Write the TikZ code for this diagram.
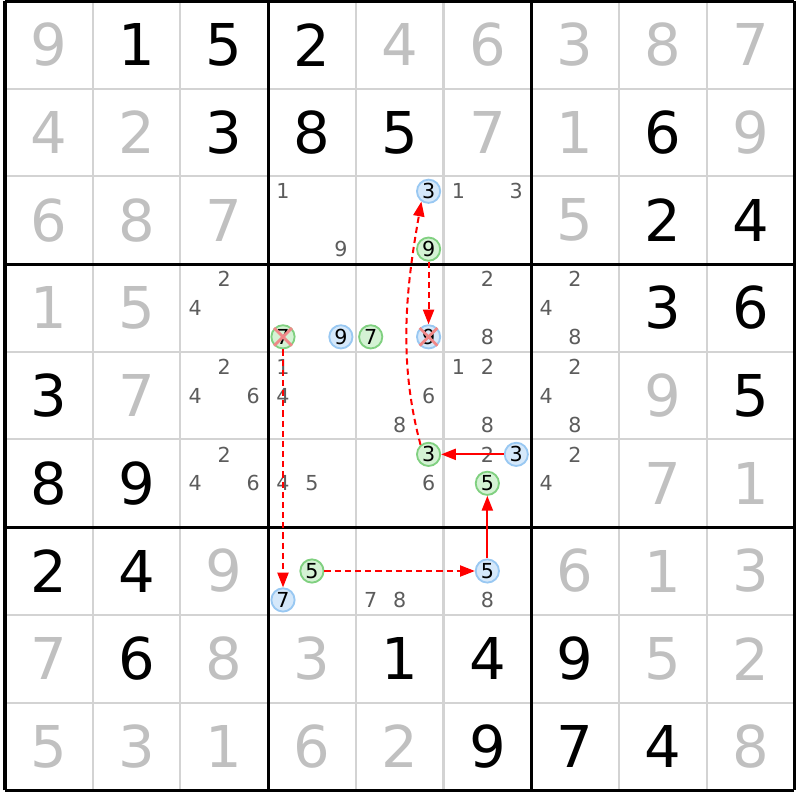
\documentclass[tikz,border=0pt]{standalone}
\usepackage{fontspec}
\setmainfont{DejaVu Sans}
\usetikzlibrary{arrows.meta}
\definecolor{solvedgray}{HTML}{C0C0C0}
\definecolor{candgray}{HTML}{5C5C5C}
\definecolor{gridgray}{HTML}{D3D3D3}
\definecolor{ongreen}{HTML}{D4F2D4}
\definecolor{ongreenline}{HTML}{80D080}
\definecolor{offblue}{HTML}{D5E8FA}
\definecolor{offblueline}{HTML}{99C8F2}
\definecolor{strikered}{HTML}{F08888}
\newcommand\givenfont{\fontsize{18.7}{20}\selectfont}
\newcommand\candfont{\fontsize{6.7}{7}\selectfont}
\tikzset{
  given/.style={font=\givenfont,inner sep=0pt},
  solved/.style={given,text=solvedgray},
  cand/.style={font=\candfont,inner sep=0pt,text=candgray},
  oncand/.style={cand,text=black,circle,draw=ongreenline,fill=ongreen,line width=0.6pt,minimum size=0.265cm},
  offcand/.style={oncand,draw=offblueline,fill=offblue},
  strike/.style={strikered,line width=0.9pt},
  stronglink/.style={red,line width=0.65pt,-{Triangle[length=4.8pt,width=3.6pt]}},
  weaklink/.style={stronglink,dash pattern=on 2pt off 1.3pt}
}
\begin{document}
\begin{tikzpicture}
\useasboundingbox (-0.057,-0.108) rectangle (9.065,9.011);
% grid
\draw[gridgray,line width=0.65pt] (0,0) grid (9,9);
\draw[black,line width=1pt,step=3] (0,0) grid (9,9);
% clues and solved cells
\foreach \c/\r/\d in {1/0/1,2/0/5,3/0/2,2/1/3,3/1/8,4/1/5,7/1/6,7/2/2,8/2/4,7/3/3,8/3/6,
  0/4/3,8/4/5,0/5/8,1/5/9,0/6/2,1/6/4,1/7/6,4/7/1,5/7/4,6/7/9,5/8/9,6/8/7,7/8/4}
  \node[given] (g\r\c) at (\c+0.5,8.5-\r) {\d};
\foreach \c/\r/\d in {0/0/9,4/0/4,5/0/6,6/0/3,7/0/8,8/0/7,0/1/4,1/1/2,5/1/7,6/1/1,8/1/9,
  0/2/6,1/2/8,2/2/7,6/2/5,0/3/1,1/3/5,1/4/7,7/4/9,7/5/7,8/5/1,2/6/9,6/6/6,7/6/1,8/6/3,
  0/7/7,2/7/8,3/7/3,7/7/5,8/7/2,0/8/5,1/8/3,2/8/1,3/8/6,4/8/2,8/8/8}
  \node[solved] (g\r\c) at (\c+0.5,8.5-\r) {\d};
% candidates
\foreach \c/\r/\k/\s in {3/2/1/cand,3/2/9/cand,4/2/3/offcand,4/2/9/oncand,5/2/1/cand,5/2/3/cand,
  2/3/2/cand,2/3/4/cand,3/3/7/oncand,3/3/9/offcand,4/3/7/oncand,4/3/9/offcand,5/3/2/cand,
  5/3/8/cand,6/3/2/cand,6/3/4/cand,6/3/8/cand,
  2/4/2/cand,2/4/4/cand,2/4/6/cand,3/4/1/cand,3/4/4/cand,4/4/6/cand,4/4/8/cand,5/4/1/cand,
  5/4/2/cand,5/4/8/cand,6/4/2/cand,6/4/4/cand,6/4/8/cand,
  2/5/2/cand,2/5/4/cand,2/5/6/cand,3/5/4/cand,3/5/5/cand,4/5/3/oncand,4/5/6/cand,5/5/2/cand,
  5/5/3/offcand,5/5/5/oncand,6/5/2/cand,6/5/4/cand,
  3/6/5/oncand,3/6/7/offcand,4/6/7/cand,4/6/8/cand,5/6/5/offcand,5/6/8/cand}{
  \pgfmathsetmacro\cx{\c+0.5+0.33*(mod(\k-1,3)-1)}
  \pgfmathsetmacro\cy{8.5-\r-0.33*(floor((\k-1)/3)-1)}
  \node[\s] (c\r\c\k) at (\cx,\cy) {\k};
}
% eliminations
\foreach \n in {c337,c349}{
  \draw[strike] (\n.north west) -- (\n.south east);
  \draw[strike] (\n.north east) -- (\n.south west);
}
% chain
\draw[weaklink] (c543.130) .. controls +(105:1) and +(260:1) .. (c243.235);
\draw[weaklink] (c249) -- (c349);
\draw[weaklink] (c337) -- (c637);
\draw[weaklink] (c635) -- (c655);
\draw[stronglink] (c655) -- (c555);
\draw[stronglink] (c553) -- (c543);
\end{tikzpicture}
\end{document}
